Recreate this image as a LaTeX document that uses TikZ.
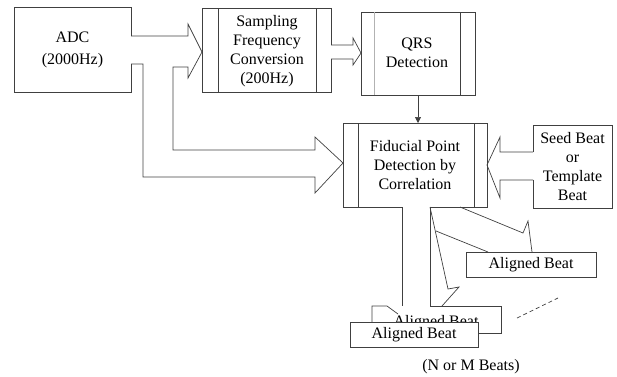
\documentclass[tikz,border=0pt]{standalone}
\usepackage{fontspec}
\setmainfont{Liberation Serif}
\usetikzlibrary{arrows.meta}
\tikzset{
  txt/.style={inner sep=0pt, outer sep=0pt, align=center,
    font=\fontsize{16}{19}\selectfont, text=black},
  boxed/.style={txt, draw=black!75, line width=0.7pt, fill=white},
  ln/.style={draw=black!75, line width=0.7pt, line join=miter},
  faint/.style={draw=black!30, line width=0.6pt},
}
\begin{document}
\begin{tikzpicture}[x=1pt,y=-1pt]
\useasboundingbox (0,0) rectangle (617,376);

% ---- labels of the upper blocks ----
\node[txt, minimum width=117pt, minimum height=85pt] (adc) at (72.5,49.5) {ADC\\[3pt](2000Hz)};
\node[txt, minimum width=98pt, minimum height=84pt] (samp) at (267,51) {Sampling\\Frequency\\Conversion\\(200Hz)};
\node[boxed, minimum width=114pt, minimum height=83pt] (qrs) at (418,53.5) {};
\node[txt] at (417,53) {QRS\\Detection};
\node[txt, minimum width=144pt, minimum height=84pt] (fid) at (415,165) {Fiducial Point\\Detection by\\Correlation};
\node[txt, minimum width=79pt, minimum height=83pt] (seed) at (572.5,166.5) {Seed Beat\\or\\Template\\Beat};

% ---- ADC outline, open where the arrows leave ----
\draw[ln] (131,36) -- (131,7) -- (14,7) -- (14,92) -- (131,92) -- (131,64);
% branched block arrow from ADC to the converter and to the detector
\draw[ln] (131,36) -- (188,36) -- (188,24) -- (202,52) -- (188,78) -- (188,67)
  -- (173,67) -- (173,150) -- (315,150) -- (315,137) -- (343,163) -- (315,193)
  -- (315,177) -- (143,177) -- (143,64) -- (131,64);

% ---- sampling frequency conversion block ----
\draw[ln] (331,45) -- (331,8) -- (202,8) -- (202,92) -- (331,92) -- (331,59);
\draw[ln] (218,8) -- (218,92) (316,8) -- (316,92);
\draw[ln] (331,45) -- (353,45) -- (353,38) -- (361,53) -- (353,65) -- (353,59) -- (331,59);

% ---- QRS detection block ----
\draw[faint] (374,12) -- (374,95);
\draw[ln] (460,12) -- (460,95);
\draw[ln, -{Triangle[length=6pt,width=6pt]}] (qrs.south) -- (qrs.south |- fid.north);

% ---- fiducial point detection block ----
\draw[ln] (402,207) -- (343,207) -- (343,123) -- (487,123) -- (487,207) -- (430,207);
\draw[ln] (358,123) -- (358,207) (474,123) -- (474,207);

% ---- seed / template beat block and its arrow ----
\draw[ln] (533,152) -- (533,125) -- (612,125) -- (612,208) -- (533,208) -- (533,180);
\draw[ln] (533,152) -- (500,152) -- (500,137) -- (487,165) -- (500,198) -- (500,180) -- (533,180);

% ---- fan of block arrows towards the aligned beats ----
\draw[ln] (402,207) -- (402,306);
\draw[ln] (430,207) -- (430,306);
\draw[ln] (430,207) -- (448,289) -- (459,287) -- (442,306);
\draw[ln] (460,207) -- (523,233) -- (528,221) -- (532,252);
\draw[ln] (436,231) -- (488,252);

% ---- stacked aligned beats ----
\node[boxed, minimum width=130pt, minimum height=25pt] (al1) at (531,264.5) {Aligned Beat};
\node[txt, anchor=base] (al2) at (436,326) {Aligned Beat};
\draw[ln] (372,322) -- (372,306) -- (387,306) -- (398,314);
\draw[ln] (430,306) -- (501,306) -- (501,333) -- (478,333);
\node[boxed, minimum width=128pt, minimum height=25pt] (al3) at (414,334.5) {Aligned Beat};
\draw[ln, dashed, dash pattern=on 4pt off 3pt] (517,318) -- (558,298);

\node[txt] (nm) at (471,367) {(N or M Beats)};
\end{tikzpicture}
\end{document}
